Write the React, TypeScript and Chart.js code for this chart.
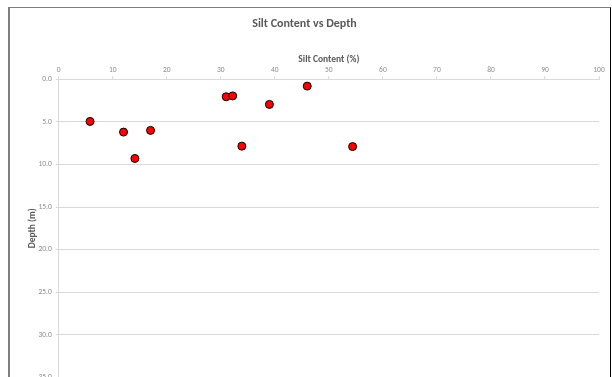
import React, { useEffect, useRef } from "react";
import { Chart, registerables } from "chart.js";

Chart.register(...registerables);

const chartTitle = "Silt Content vs Depth";
const xAxisTitle = "Silt Content (%)";
const yAxisTitle = "Depth (m)";
const siltContent = [5.8, 12.0, 17.0, 14.1, 31.0, 32.2, 46.0, 39.0, 33.9, 54.4];
const depthM = [4.95, 6.2, 6.0, 9.3, 2.05, 1.95, 0.8, 2.95, 7.85, 7.9];
const xMin = 0;
const xMax = 100;
const xStep = 10;
const yMin = 0;
const yMax = 35;
const yStep = 5;

const FONT = "Carlito, 'Liberation Sans Narrow', 'DejaVu Sans Condensed', 'Open Sans', sans-serif";

export default function App() {
  const ref = useRef<HTMLCanvasElement | null>(null);

  useEffect(() => {
    if (!ref.current) return;
    const points = siltContent.map((x, i) => ({ x, y: depthM[i] }));
    const chart = new Chart(ref.current, {
      type: "scatter",
      data: {
        datasets: [
          {
            label: "Silt",
            data: points,
            backgroundColor: "#ff0000",
            borderColor: "#000000",
            borderWidth: 1,
            pointRadius: 4,
            pointHoverRadius: 4,
          },
        ],
      },
      options: {
        animation: false,
        responsive: false,
        maintainAspectRatio: false,
        layout: { padding: { left: 0, right: 11, top: 0, bottom: 20.7 } },
        plugins: {
          legend: { display: false },
          tooltip: { enabled: false },
          title: {
            display: true,
            text: chartTitle,
            color: "#595959",
            font: { family: FONT, size: 12, weight: "bold" },
            padding: { top: 8.8, bottom: 4 },
          },
        },
        scales: {
          x: {
            type: "linear",
            position: "top",
            min: xMin,
            max: xMax,
            ticks: {
              stepSize: xStep,
              color: "#8c8c8c",
              font: { family: FONT, size: 7.5 },
              padding: 2,
              maxRotation: 0,
            },
            grid: {
              drawOnChartArea: false,
              drawTicks: true,
              tickLength: 3,
              color: "#d9d9d9",
            },
            border: { display: true, color: "#d9d9d9" },
            title: {
              display: true,
              text: xAxisTitle,
              color: "#595959",
              font: { family: FONT, size: 9.5, weight: "bold" },
              padding: { top: 19.1, bottom: 0 },
            },
            afterFit: (scale: any) => {
              scale.height = 44.1;
            },
          },
          y: {
            type: "linear",
            reverse: true,
            min: yMin,
            max: yMax,
            ticks: {
              stepSize: yStep,
              color: "#8c8c8c",
              font: { family: FONT, size: 7.5 },
              padding: 4,
              callback: (v: any) => Number(v).toFixed(1),
            },
            grid: {
              drawOnChartArea: true,
              drawTicks: true,
              tickLength: 3,
              color: "#d9d9d9",
            },
            border: { display: true, color: "#d9d9d9" },
            title: {
              display: true,
              text: yAxisTitle,
              color: "#595959",
              font: { family: FONT, size: 9.5, weight: "bold" },
              padding: { top: 16.8, bottom: 0 },
            },
            afterFit: (scale: any) => {
              scale.width = 48.7;
            },
          },
        },
      },
    });
    return () => chart.destroy();
  }, []);

  return (
    <div
      style={{
        position: "fixed",
        left: 8,
        top: 7,
        width: 600,
        height: 370,
        overflow: "hidden",
        borderTop: "1px solid #7f7f7f",
        borderLeft: "2px solid #7f7f7f",
        borderRight: "1px solid #000000",
        background: "#ffffff",
      }}
    >
      <canvas ref={ref} width={600} height={390} style={{ display: "block", width: 600, height: 390 }} />
    </div>
  );
}
